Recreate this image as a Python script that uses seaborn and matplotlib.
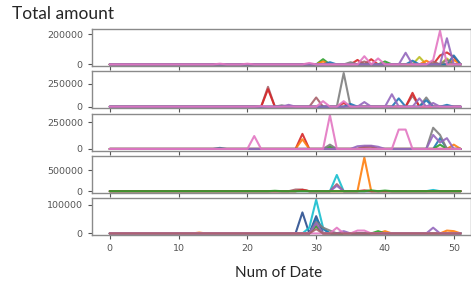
import numpy as np
import pandas as pd
import matplotlib
matplotlib.use("Agg")
import matplotlib.pyplot as plt
import seaborn as sns

# Номери тижнів (ось X)
dates = list(range(52))

# Піки кожної серії по панелях: (дата, сума); решта значень = 0
panel1 = {
    "p1_red": [(36, 30000), (38, 35000), (48, 60000), (49, 80000), (50, 50000)],
    "p1_olive": [(45, 50000), (49, 40000)],
    "p1_green": [(31, 35000), (40, 20000)],
    "p1_orange": [(31, 20000), (46, 25000), (50, 30000)],
    "p1_brown": [(37, 20000), (47, 20000)],
    "p1_blue": [(32, 15000), (44, 25000), (50, 60000)],
    "p1_gray": [(35, 15000), (49, 30000)],
    "p1_purple": [(43, 78000), (49, 175000)],
    "p1_pink": [(16, 5000), (20, 5000), (29, 10000), (37, 55000), (39, 40000),
                (47, 30000), (48, 225000)],
}
panel2 = {
    "p2_brown": [(23, 215000), (30, 100000), (44, 120000)],
    "p2_red": [(23, 190000), (34, 40000), (44, 150000)],
    "p2_gray": [(25, 15000), (34, 365000), (46, 100000)],
    "p2_blue": [(35, 30000), (42, 90000), (46, 70000), (49, 20000)],
    "p2_purple": [(26, 20000), (37, 50000), (41, 135000), (45, 90000), (47, 40000)],
    "p2_pink": [(22, 5000), (31, 60000), (34, 60000)],
}
panel3 = {
    "p3_blue": [(16, 10000), (48, 100000)],
    "p3_red": [(28, 140000), (37, 20000), (38, 25000)],
    "p3_orange": [(28, 90000), (50, 40000)],
    "p3_green": [(32, 20000), (48, 40000)],
    "p3_brown": [(37, 20000), (38, 20000)],
    "p3_gray": [(32, 40000), (47, 197000), (48, 130000)],
    "p3_purple": [(36, 25000), (37, 30000), (38, 30000), (39, 20000),
                  (47, 130000), (48, 60000), (49, 100000)],
    "p3_pink": [(21, 120000), (32, 313000), (42, 180000), (43, 180000)],
}
panel4 = {
    "p4_cyan": [(28, 10000), (33, 390000), (47, 30000)],
    "p4_orange": [(28, 30000), (37, 810000)],
    "p4_brown": [(27, 40000), (28, 40000), (33, 170000)],
    "p4_purple": [(33, 130000)],
    "p4_red": [(28, 30000), (37, 20000)],
    "p4_green": [(24, 10000), (38, 20000), (40, 15000)],
}
panel5 = {
    "p5_navy": [(28, 73000), (30, 60000)],
    "p5_cyan": [(29, 20000), (30, 117000), (31, 20000)],
    "p5_blue": [(30, 50000), (31, 15000)],
    "p5_orange": [(13, 3000), (30, 30000), (40, 8000), (49, 10000), (50, 8000)],
    "p5_green": [(30, 25000), (39, 8000)],
    "p5_gray": [(30, 40000), (31, 20000), (32, 10000)],
    "p5_purple": [(30, 35000), (34, 8000), (47, 20000)],
    "p5_pink": [(33, 20000), (36, 10000), (37, 10000)],
    "p5_brown": [(30, 15000)],
}
panels = [panel1, panel2, panel3, panel4, panel5]
ytick_top = [200000, 250000, 250000, 500000, 100000]

tab = dict(zip(["blue", "orange", "green", "red", "purple", "brown", "pink",
                "gray", "olive", "cyan"], sns.color_palette("tab10")))
tab["navy"] = "#2b4f8f"
tab["brown"] = "#a8606a"

rows = []
for i, panel in enumerate(panels):
    for name, peaks in panel.items():
        vals = dict(peaks)
        for d in dates:
            rows.append({"panel": i, "series": name, "date": d,
                         "amount": vals.get(d, 0)})
df = pd.DataFrame(rows)

sns.set_style("ticks")
fig, axes = plt.subplots(5, 1, figsize=(4.71, 2.85), dpi=100, sharex=True,
                         gridspec_kw=dict(hspace=0.14))
fig.subplots_adjust(left=0.195, right=1.0, top=0.898, bottom=0.175)

for i, ax in enumerate(axes):
    sub = df[df["panel"] == i]
    order = list(panels[i].keys())
    pal = {s: tab[s.split("_")[1]] for s in order}
    sns.lineplot(data=sub, x="date", y="amount", hue="series", hue_order=order,
                 palette=pal, estimator=None, legend=False, linewidth=1.5,
                 alpha=0.9, ax=ax)
    ax.set_xlim(-2.6, 52.5)
    ax.set_yticks([0, ytick_top[i]])
    ax.set_xticks([0, 10, 20, 30, 40, 50])
    ax.set_xlabel("")
    ax.set_ylabel("")
    ax.tick_params(labelsize=6.8, colors="#555555", length=3, width=0.8)
    for sp in ax.spines.values():
        sp.set_color("#8a8a8a")
        sp.set_linewidth(1.0)

fig.text(0.026, 0.95, "Total amount", fontsize=12.5, family="Lato",
         va="center", ha="left")
fig.text(0.592, 0.042, "Num of Date", fontsize=11, family="Lato",
         va="center", ha="center")

fig.savefig("out.png", dpi=100)
